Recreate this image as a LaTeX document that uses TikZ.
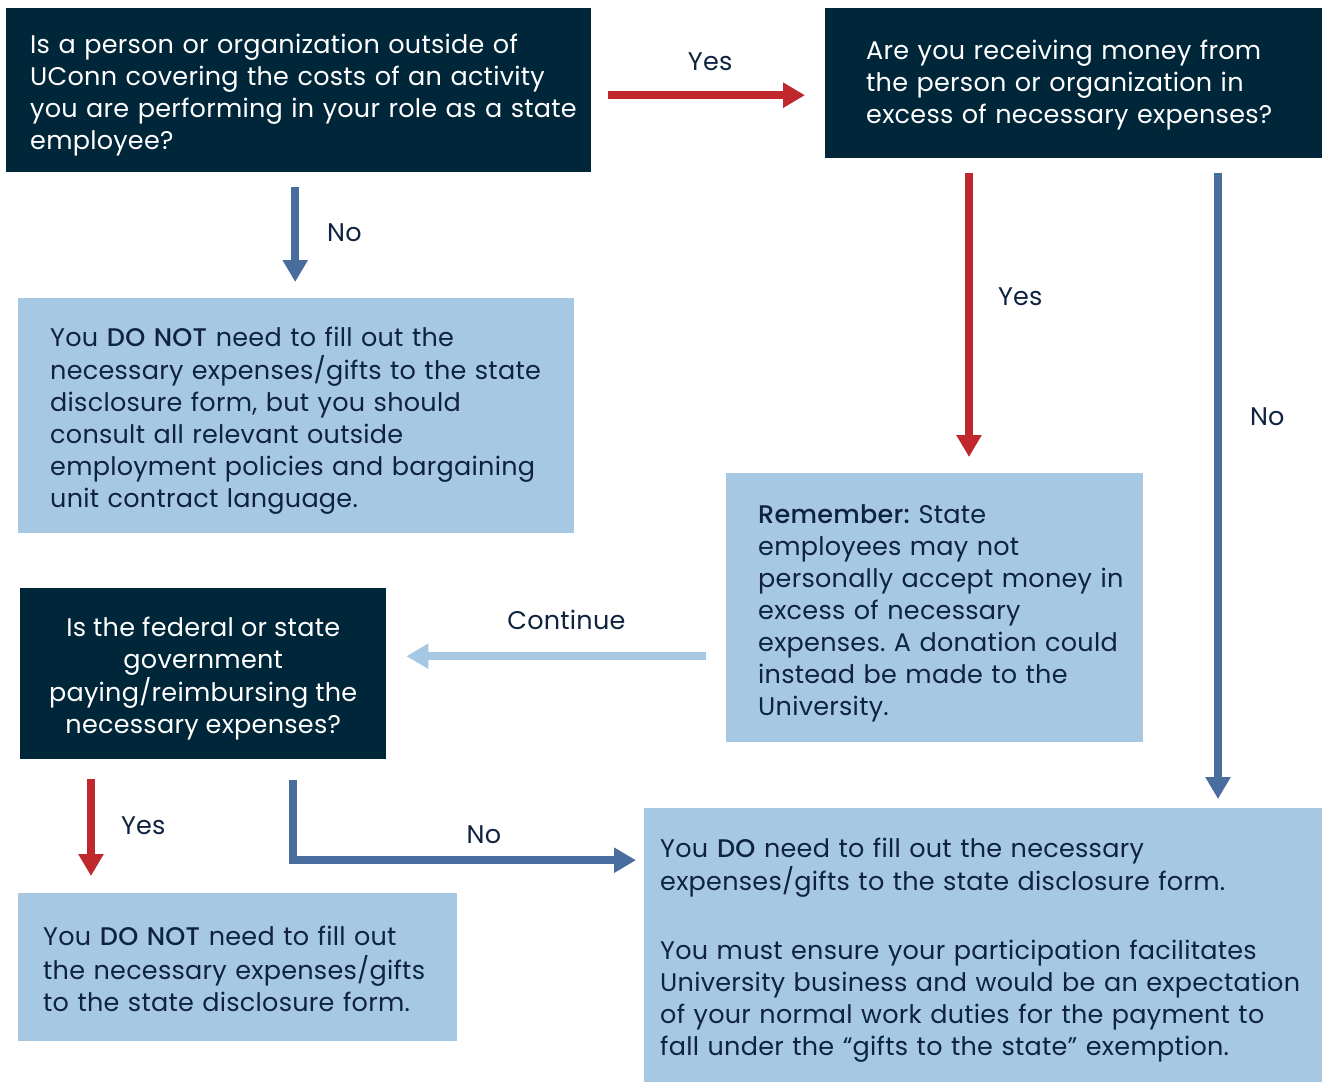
\documentclass[tikz,border=0pt]{standalone}
\usepackage{fontspec}
\setmainfont{Poppins}[LetterSpace=1, BoldFont={Poppins Medium}]
\usetikzlibrary{arrows.meta,calc}
\frenchspacing

\definecolor{navy}{HTML}{002639}
\definecolor{paleblue}{HTML}{A6C8E2}
\definecolor{flowred}{HTML}{C0282D}
\definecolor{flowblue}{HTML}{4A6DA0}
\definecolor{inktext}{HTML}{0F2340}

% lines of a box, kept unbroken and moved down a little
\newcommand{\boxlines}[3][-5pt]{\raisebox{#1}[\height][\depth]{\begin{tabular}{@{}#2@{}}#3\end{tabular}}}

\tikzset{
	box/.style={anchor=north west, inner sep=0pt, font=\fontsize{25.5}{32}\selectfont},
	question/.style={box, fill=navy, text=white},
	answer/.style={box, fill=paleblue, text=inktext},
	flow/.style={line width=8pt, -{Triangle[width=24pt,length=22pt]}},
	yesarrow/.style={flow, draw=flowred},
	noarrow/.style={flow, draw=flowblue},
	contarrow/.style={flow, draw=paleblue},
	lbl/.style={inner sep=0pt, text=inktext, font=\fontsize{25.5}{32}\selectfont}
}

\begin{document}
\begin{tikzpicture}[x=1pt,y=-1pt]
	\useasboundingbox[fill=white] (0,0) rectangle (1322,1082);

	% questions
	\node[question, minimum width=585pt, minimum height=164pt, text width=537pt, align=left] (q1) at (6,8)
	{\boxlines{l}{Is a person or organization outside of\\UConn covering the costs of an activity\\you are performing in your role as a state\\employee?}};
	\node[question, minimum width=497pt, minimum height=150pt, text width=415pt, align=left] (q2) at (825,8)
	{\boxlines[-2pt]{l}{Are you receiving money from\\the person or organization in\\excess of necessary expenses?}};
	\node[question, minimum width=366pt, minimum height=171pt] (q3) at (20,588)
	{\boxlines{c}{Is the federal or state\\government\\paying/reimbursing the\\necessary expenses?}};

	% answers
	\node[answer, minimum width=556pt, minimum height=235pt, text width=492pt, align=left] (r1) at (18,298)
	{\boxlines{l}{You \textbf{DO NOT} need to fill out the\\necessary expenses/gifts to the state\\disclosure form, but you should\\consult all relevant outside\\employment policies and bargaining\\unit contract language.}};
	\node[answer, minimum width=417pt, minimum height=269pt, text width=353pt, align=left] (r2) at (726,473)
	{\boxlines{l}{\textbf{Remember:} State\\employees may not\\personally accept money in\\excess of necessary\\expenses. A donation could\\instead be made to the\\University.}};
	\node[answer, minimum width=439pt, minimum height=148pt, text width=389pt, align=left] (r3) at (18,893)
	{\boxlines{l}{You \textbf{DO NOT} need to fill out\\the necessary expenses/gifts\\to the state disclosure form.}};
	\node[answer, minimum width=678pt, minimum height=274pt, text width=646pt, align=left] (r4) at (644,808)
	{\boxlines{l}{You \textbf{DO} need to fill out the necessary\\expenses/gifts to the state disclosure form.\\[37pt]You must ensure your participation facilitates\\University business and would be an expectation\\of your normal work duties for the payment to\\fall under the “gifts to the state” exemption.}};

	% connectors
	\draw[yesarrow, shorten <=17pt, shorten >=20pt] ([yshift=-5pt]q1.east) -- ([yshift=-5pt]q1.east -| q2.west)
		node[lbl, midway, above=20pt, xshift=2pt] {Yes};
	\draw[noarrow, shorten <=15pt, shorten >=16pt] ([xshift=-3.5pt]q1.south) -- ([xshift=-3.5pt]q1.south |- r1.north)
		node[lbl, midway, right=28pt, yshift=2pt] {No};
	\draw[yesarrow, shorten <=15pt, shorten >=16pt] ([xshift=144pt]q2.south west) -- ([xshift=144pt]q2.south west |- r2.north)
		node[lbl, pos=0.44, right=25pt] {Yes};
	\draw[noarrow, shorten <=15pt, shorten >=9pt] ([xshift=393pt]q2.south west) -- ([xshift=393pt]q2.south west |- r4.north)
		node[lbl, pos=0.398, right=28pt] {No};
	\draw[contarrow, shorten <=20pt, shorten >=20pt] ([yshift=17.5pt]q3.east -| r2.west) -- ([yshift=17.5pt]q3.east)
		node[lbl, pos=0.47, above=22pt] {Continue};
	\draw[yesarrow, shorten <=20pt, shorten >=17pt] ([xshift=71pt]q3.south west) -- ([xshift=71pt]q3.south west |- r3.north)
		node[lbl, midway, right=26pt] {Yes};
	\draw[noarrow, shorten <=21pt, shorten >=8pt] ([xshift=273pt]q3.south west) |- ([yshift=85pt]r4.west)
		node[lbl, pos=0.772, above=12pt] {No};
\end{tikzpicture}
\end{document}
